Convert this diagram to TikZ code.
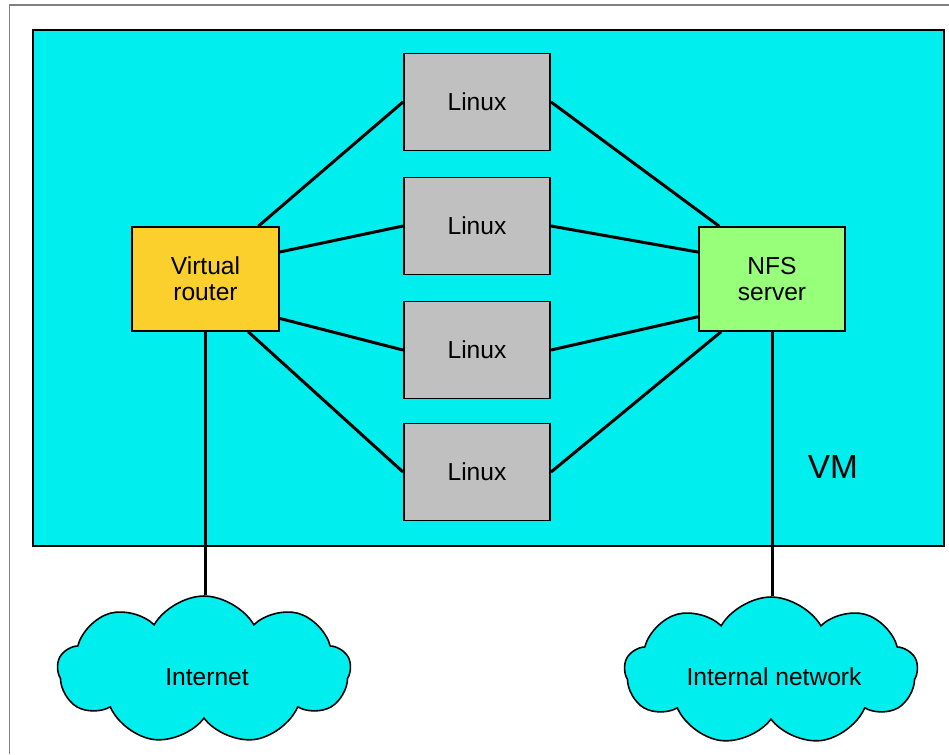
\documentclass[tikz,border=0pt]{standalone}
\usepackage{fontspec}
\setmainfont{Liberation Sans}
\usetikzlibrary{shapes.symbols}
\definecolor{vmcyan}{RGB}{0,238,238}
\definecolor{linuxgray}{RGB}{192,192,192}
\definecolor{routeryellow}{RGB}{252,208,44}
\definecolor{nfsgreen}{RGB}{152,255,122}
\begin{document}
\begin{tikzpicture}[x=0.02cm, y=-0.02cm,
        box/.style={draw, line width=0.9pt, minimum width=2.93cm, minimum height=1.94cm,
            inner sep=0pt, align=center, font=\fontsize{14}{15}\selectfont},
        linuxbox/.style={box, fill=linuxgray},
        link/.style={line width=1.7pt},
        netcloud/.style={cloud, cloud puffs=9, cloud puff arc=120, cloud ignores aspect,
            draw, line width=0.9pt, fill=vmcyan, minimum width=5.86cm, minimum height=2.96cm,
            inner sep=0pt},
        cloudtext/.style={font=\fontsize{14}{15}\selectfont}
    ]
    \useasboundingbox (0,0) rectangle (949,754);

    % Cornice
    \draw[gray, line width=0.7pt] (949,5) -- (9.5,5) -- (9.5,754);

    % VM
    \draw[line width=0.9pt, fill=vmcyan] (33,30) rectangle (944,546);
    \node[font=\fontsize{19}{21}\selectfont] (vm) at (833,467) {VM};

    % Nodi
    \node[linuxbox] (l1) at (477,102) {Linux};
    \node[linuxbox] (l2) at (477,226) {Linux};
    \node[linuxbox] (l3) at (477,350) {Linux};
    \node[linuxbox] (l4) at (477,472) {Linux};
    \node[box, fill=routeryellow, minimum height=2.08cm] (router) at (205.5,279) {Virtual\\router};
    \node[box, fill=nfsgreen, minimum height=2.08cm] (nfs) at (772,279) {NFS\\server};

    % Reti esterne
    \node[netcloud] (inet) at (204,670) {};
    \node[netcloud] (intnet) at (771,671) {};
    \node[cloudtext] (inettext) at (207,677) {Internet};
    \node[cloudtext] (intnettext) at (774,677) {Internal network};

    % Collegamenti
    \draw[link] (router.45) -- (l1.west);
    \draw[link] (router.20) -- (l2.west);
    \draw[link] (router.-28) -- (l3.west);
    \draw[link] (router.-51) -- (l4.west);
    \draw[link] (l1.east) -- (nfs.135);
    \draw[link] (l2.east) -- (nfs.160);
    \draw[link] (l3.east) -- (nfs.-153);
    \draw[link] (l4.east) -- (nfs.-134);
    \draw[link] (router.south) -- (router.south |- inet.north);
    \draw[link] (nfs.south) -- (nfs.south |- intnet.north);
\end{tikzpicture}
\end{document}
